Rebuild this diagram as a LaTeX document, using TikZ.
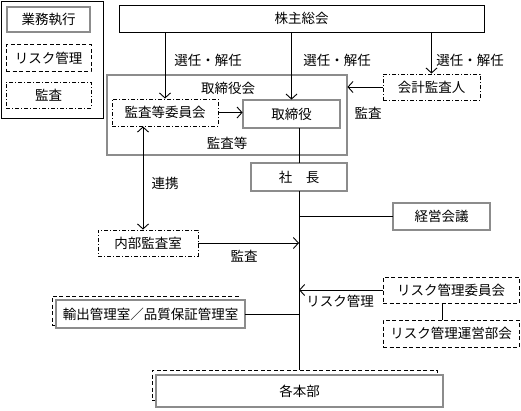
\documentclass[tikz,border=0pt]{standalone}
\usepackage{fontspec}
\setmainfont{Noto Sans CJK JP}
\usepackage{tikz}
\usetikzlibrary{arrows.meta, positioning, calc}

\begin{document}
\begin{tikzpicture}[x=1pt, y=-1pt, font=\fontsize{13.5}{15}\selectfont,
            line width=0.9pt, >={Straight Barb[length=5pt, width=11pt]},
            plainbox/.style={draw, align=center, inner sep=0pt},
            dblbox/.style={plainbox, draw=black, double=black!45,
                           double distance=1.2pt, line width=0.8pt, fill=white},
            riskbox/.style={plainbox, dash pattern=on 4pt off 2.5pt},
            auditbox/.style={plainbox, dash pattern=on 4pt off 2pt on 1pt off 2pt},
            lbl/.style={inner sep=1pt}]
            \useasboundingbox (0,0) rectangle (521,410);

            % legend
            \draw (1,1) rectangle (103,118);
            \node[dblbox, minimum width=83pt, minimum height=25pt] (lg1) at (48.5,19.5)
              {業務執行};
            \node[riskbox, minimum width=85pt, minimum height=27pt] (lg2) at (48.5,58)
              {リスク管理};
            \node[auditbox, minimum width=85pt, minimum height=26pt] (lg3) at (48.5,95)
              {監査};

            % boxes
            \node[plainbox, minimum width=365pt, minimum height=27pt] (soukai) at (301.5,18.5)
              {株主総会};
            \node[dblbox, fill=none, minimum width=240pt, minimum height=80pt] (torikai) at (227,115) {};
            \node[lbl] (torikaiLbl) at (228,88) {取締役会};
            \node[lbl] (kansaLbl) at (227,143) {監査等};
            \node[auditbox, minimum width=106pt, minimum height=27pt] (kansaiin) at (165,112.5)
              {監査等委員会};
            \node[dblbox, minimum width=97pt, minimum height=28pt] (torishimari) at (291.5,114)
              {取締役};
            \node[auditbox, minimum width=97pt, minimum height=26pt] (kaikei) at (431.5,87)
              {会計監査人};
            \node[dblbox, minimum width=96pt, minimum height=28pt] (shacho) at (299,177)
              {社　長};
            \node[dblbox, minimum width=97pt, minimum height=27pt] (keiei) at (441.5,216.5)
              {経営会議};
            \node[auditbox, minimum width=100pt, minimum height=26pt] (naibu) at (148,243)
              {内部監査室};
            \node[riskbox, minimum width=186pt, minimum height=29pt] (yushutsuBack) at (145,310.5) {};
            \node[dblbox, minimum width=189pt, minimum height=28pt] (yushutsu) at (150.5,314)
              {輸出管理室／品質保証管理室};
            \node[riskbox, minimum width=136pt, minimum height=26pt] (riskIin) at (451,290)
              {リスク管理委員会};
            \node[riskbox, minimum width=136pt, minimum height=27pt] (riskUnei) at (451,333.5)
              {リスク管理運営部会};
            \node[riskbox, minimum width=285pt, minimum height=30pt] (honbuBack) at (294.5,385) {};
            \node[dblbox, minimum width=287pt, minimum height=32pt] (honbu) at (299.5,391)
              {各本部};

            % connectors
            \draw[->] (kansaiin.north |- soukai.south) -- (kansaiin.north);
            \draw[->] (torishimari.north |- soukai.south) -- (torishimari.north);
            \draw[->] (kaikei.north |- soukai.south) -- (kaikei.north);
            \draw[->] (kansaiin.east) -- (kansaiin.east -| torishimari.west);
            \draw[->] (kaikei.west) -- (kaikei.west -| torikai.east);
            \draw (shacho.north |- torishimari.south) -- (shacho.north);
            \draw (shacho.south) -- (shacho.south |- honbuBack.north);
            \draw (keiei.west) -- (keiei.west -| shacho.south);
            \draw[<->] ([xshift=-5pt]naibu.north) -- ([xshift=-5pt]naibu.north |- kansaiin.south);
            \draw[->] (naibu.east) -- (naibu.east -| shacho.south);
            \draw (yushutsu.east) -- (yushutsu.east -| shacho.south);
            \draw[->] (riskIin.west) -- (riskIin.west -| shacho.south);
            \draw ([xshift=-9pt]riskIin.south) -- ([xshift=-9pt]riskUnei.north);

            % labels
            \node[lbl] (senA) at (208,60) {選任・解任};
            \node[lbl] (senB) at (337,60) {選任・解任};
            \node[lbl] (senC) at (470,60) {選任・解任};
            \node[lbl] (kansaA) at (368,113) {監査};
            \node[lbl] (renkei) at (165,183) {連携};
            \node[lbl] (kansaB) at (244,256) {監査};
            \node[lbl] (riskLbl) at (340,301) {リスク管理};
          \end{tikzpicture}
\end{document}
